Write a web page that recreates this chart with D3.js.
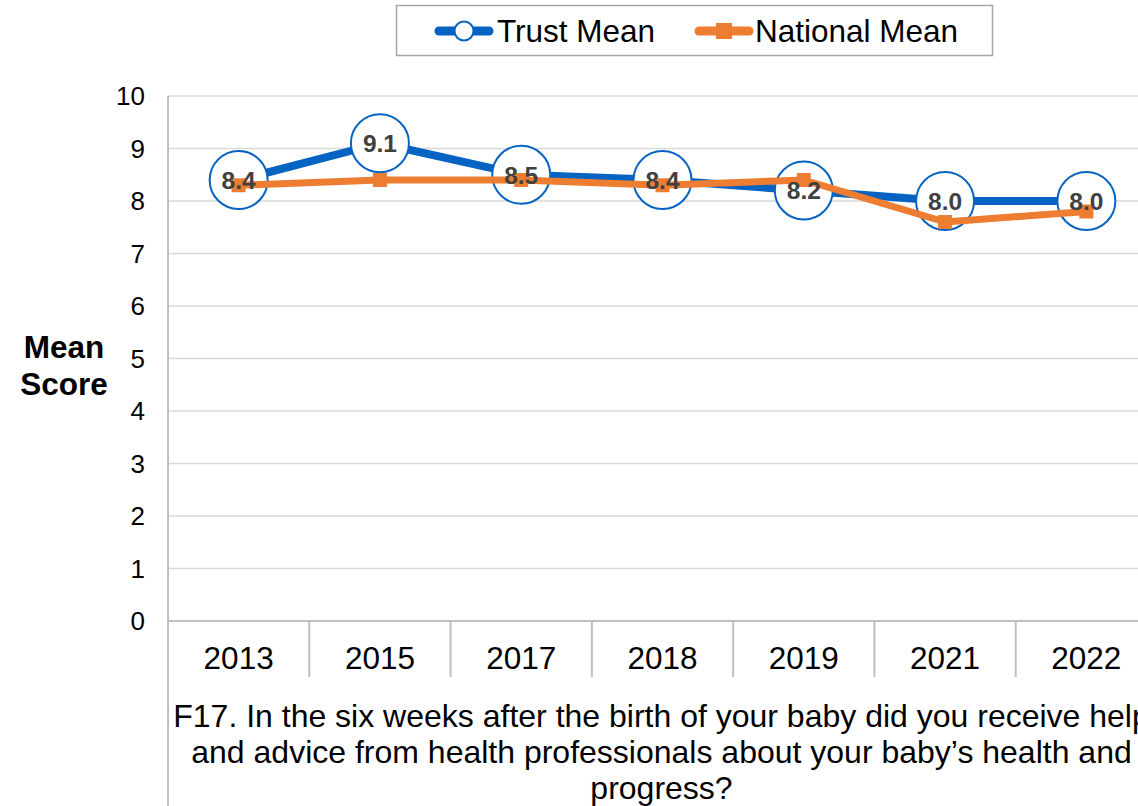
<!DOCTYPE html>
<html>
<head>
<meta charset="utf-8">
<script src="https://cdn.jsdelivr.net/npm/d3@7"></script>
<style>
  html, body { margin: 0; padding: 0; background: #fff; }
  svg { display: block; font-family: "Liberation Sans", Arial, sans-serif; }
</style>
</head>
<body>
<svg id="chart" width="1138" height="806"></svg>
<script>
// Survey years and mean scores
const years = ["2013", "2015", "2017", "2018", "2019", "2021", "2022"];
const trustMean = [8.4, 9.1, 8.5, 8.4, 8.2, 8.0, 8.0];
const nationalMean = [8.3, 8.4, 8.4, 8.3, 8.4, 7.6, 7.8];
const yTicks = [0, 1, 2, 3, 4, 5, 6, 7, 8, 9, 10];
const questionLines = [
  "F17. In the six weeks after the birth of your baby did you receive help",
  "and advice from health professionals about your baby\u2019s health and",
  "progress?"
];

const BLUE = "#0563c1";
const ORANGE = "#ed7d31";
const GRID = "#d9d9d9";
const AXIS = "#bfbfbf";

const svg = d3.select("#chart");
const plot = { left: 168, right: 1157, top: 96, bottom: 621 };

const x = d3.scaleBand().domain(years).range([plot.left, plot.right]).padding(0);
const y = d3.scaleLinear().domain([0, 10]).range([plot.bottom, plot.top]);
const cx = d => x(d) + x.bandwidth() / 2;

// Horizontal gridlines
svg.append("g").selectAll("line").data(yTicks.filter(t => t > 0)).join("line")
  .attr("x1", plot.left).attr("x2", plot.right)
  .attr("y1", d => y(d)).attr("y2", d => y(d))
  .attr("stroke", GRID).attr("stroke-width", 1.3);

// Y axis tick labels
svg.append("g").selectAll("text").data(yTicks).join("text")
  .attr("x", 145).attr("y", d => y(d)).attr("dy", "0.36em")
  .attr("text-anchor", "end").attr("font-size", 26).attr("fill", "#000")
  .text(d => d);

// Y axis title
svg.append("text").attr("text-anchor", "middle").attr("font-size", 31.5)
  .attr("font-weight", "bold").attr("fill", "#000")
  .selectAll("tspan").data(["Mean", "Score"]).join("tspan")
  .attr("x", 64).attr("y", (d, i) => 358 + i * 37).text(d => d);

// Axis lines: baseline, left spine (runs down through the category rows), category separators
svg.append("line").attr("x1", plot.left).attr("x2", plot.right)
  .attr("y1", plot.bottom).attr("y2", plot.bottom)
  .attr("stroke", AXIS).attr("stroke-width", 2);
svg.append("line").attr("x1", plot.left).attr("x2", plot.left)
  .attr("y1", plot.top).attr("y2", 806)
  .attr("stroke", AXIS).attr("stroke-width", 2);
svg.append("g").selectAll("line").data(years.slice(1)).join("line")
  .attr("x1", d => x(d)).attr("x2", d => x(d))
  .attr("y1", plot.bottom).attr("y2", 677)
  .attr("stroke", AXIS).attr("stroke-width", 2);

// Category labels
svg.append("g").selectAll("text").data(years).join("text")
  .attr("x", d => cx(d)).attr("y", 669)
  .attr("text-anchor", "middle").attr("font-size", 31.5).attr("fill", "#000")
  .text(d => d);

// Question text beneath the categories (runs past the right edge of the view)
svg.append("text").attr("text-anchor", "middle").attr("font-size", 32).attr("fill", "#000")
  .selectAll("tspan").data(questionLines).join("tspan")
  .attr("x", (plot.left + plot.right) / 2 - 1).attr("y", (d, i) => 727 + i * 36)
  .text(d => d);

const line = d3.line().x(d => cx(d.year)).y(d => y(d.value));
const trustPts = years.map((yr, i) => ({ year: yr, value: trustMean[i] }));
const nationalPts = years.map((yr, i) => ({ year: yr, value: nationalMean[i] }));

// Trust series line and circle markers
svg.append("path").datum(trustPts).attr("d", line)
  .attr("fill", "none").attr("stroke", BLUE).attr("stroke-width", 8)
  .attr("stroke-linejoin", "round");
svg.append("g").selectAll("circle").data(trustPts).join("circle")
  .attr("cx", d => cx(d.year)).attr("cy", d => y(d.value)).attr("r", 29)
  .attr("fill", "#fff").attr("stroke", BLUE).attr("stroke-width", 2);

// National series line and square markers
svg.append("path").datum(nationalPts).attr("d", line)
  .attr("fill", "none").attr("stroke", ORANGE).attr("stroke-width", 7)
  .attr("stroke-linejoin", "round");
svg.append("g").selectAll("rect").data(nationalPts).join("rect")
  .attr("x", d => cx(d.year) - 7).attr("y", d => y(d.value) - 7)
  .attr("width", 14).attr("height", 14).attr("fill", ORANGE);

// Data labels for the trust series
svg.append("g").selectAll("text").data(trustPts).join("text")
  .attr("x", d => cx(d.year)).attr("y", d => y(d.value)).attr("dy", "0.36em")
  .attr("text-anchor", "middle").attr("font-size", 24.5).attr("font-weight", "bold")
  .attr("fill", "#404040").text(d => d.value.toFixed(1));

// Legend
const legend = svg.append("g");
legend.append("rect").attr("x", 396.5).attr("y", 5.5).attr("width", 596).attr("height", 50)
  .attr("fill", "#fff").attr("stroke", "#a6a6a6").attr("stroke-width", 1.5);
legend.append("line").attr("x1", 439).attr("x2", 489).attr("y1", 31).attr("y2", 31)
  .attr("stroke", BLUE).attr("stroke-width", 9).attr("stroke-linecap", "round");
legend.append("circle").attr("cx", 464).attr("cy", 31).attr("r", 9.5)
  .attr("fill", "#fff").attr("stroke", BLUE).attr("stroke-width", 2);
legend.append("text").attr("x", 497).attr("y", 31).attr("dy", "0.36em")
  .attr("font-size", 31.5).attr("fill", "#000").text("Trust Mean");
legend.append("line").attr("x1", 699).attr("x2", 749).attr("y1", 31).attr("y2", 31)
  .attr("stroke", ORANGE).attr("stroke-width", 9).attr("stroke-linecap", "round");
legend.append("rect").attr("x", 716).attr("y", 23).attr("width", 16).attr("height", 16)
  .attr("fill", ORANGE);
legend.append("text").attr("x", 755).attr("y", 31).attr("dy", "0.36em")
  .attr("font-size", 31.5).attr("fill", "#000").text("National Mean");
</script>
</body>
</html>
